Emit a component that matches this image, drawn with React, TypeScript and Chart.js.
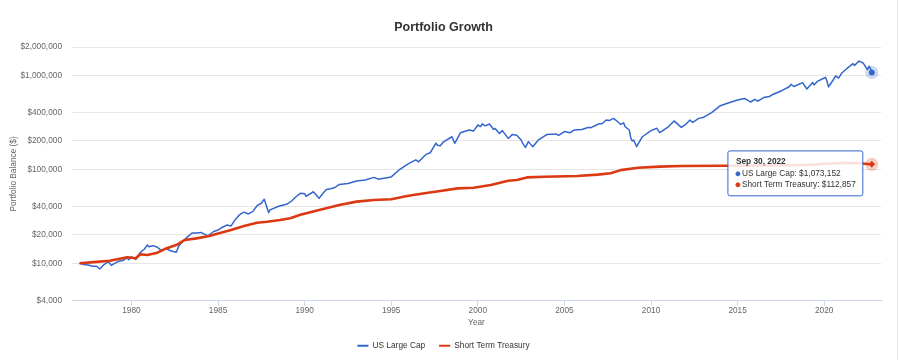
import React, { useEffect, useRef } from 'react';
import { Chart, Tooltip, registerables } from 'chart.js';

Chart.register(...registerables);

const FONT = '"Liberation Sans", Arial, Helvetica, sans-serif';

const chartTitle = 'Portfolio Growth';
const seriesNames = ['US Large Cap', 'Short Term Treasury'];
const seriesColors = ['#3366cc', '#dc3912'];
const haloColors = ['rgba(51,102,204,0.25)', 'rgba(220,57,18,0.25)'];

const yTickValues = [4000, 10000, 20000, 40000, 100000, 200000, 400000, 1000000, 2000000];
const xTickYears = [1980, 1985, 1990, 1995, 2000, 2005, 2010, 2015, 2020];

// month-end dates (YYYY-MM) and balances
const largeCapMonths = [
  '1976-12', '1977-03', '1977-06', '1977-09', '1977-12', '1978-02', '1978-05', '1978-08', '1978-10', '1978-12',
  '1979-03', '1979-06', '1979-09', '1979-10', '1979-12', '1980-03', '1980-06', '1980-09', '1980-11', '1980-12',
  '1981-03', '1981-06', '1981-09', '1981-12', '1982-03', '1982-07', '1982-09', '1982-12', '1983-03', '1983-06',
  '1983-09', '1983-12', '1984-05', '1984-09', '1984-12', '1985-03', '1985-06', '1985-09', '1985-12', '1986-03',
  '1986-06', '1986-09', '1986-12', '1987-03', '1987-06', '1987-08', '1987-11', '1987-12', '1988-06', '1988-12',
  '1989-03', '1989-06', '1989-09', '1989-12', '1990-01', '1990-06', '1990-10', '1990-12', '1991-03', '1991-06',
  '1991-09', '1991-12', '1992-06', '1992-12', '1993-06', '1993-12', '1994-03', '1994-06', '1994-12', '1995-06',
  '1995-12', '1996-05', '1996-07', '1996-12', '1997-03', '1997-07', '1997-08', '1997-10', '1997-12', '1998-06',
  '1998-08', '1998-12', '1999-06', '1999-09', '1999-12', '2000-02', '2000-03', '2000-05', '2000-08', '2000-11',
  '2000-12', '2001-03', '2001-05', '2001-09', '2001-12', '2002-03', '2002-06', '2002-07', '2002-09', '2002-11',
  '2003-02', '2003-06', '2003-12', '2004-06', '2004-08', '2004-12', '2005-04', '2005-07', '2005-12', '2006-05',
  '2006-06', '2006-12', '2007-02', '2007-05', '2007-07', '2007-10', '2007-12', '2008-03', '2008-05', '2008-06',
  '2008-09', '2008-10', '2008-11', '2008-12', '2009-02', '2009-06', '2009-12', '2010-04', '2010-06', '2010-12',
  '2011-04', '2011-09', '2011-12', '2012-03', '2012-05', '2012-09', '2012-12', '2013-06', '2013-12', '2014-06',
  '2014-12', '2015-05', '2015-08', '2015-09', '2015-12', '2016-02', '2016-06', '2016-10', '2016-12', '2017-06',
  '2017-12', '2018-01', '2018-03', '2018-09', '2018-12', '2019-04', '2019-05', '2019-07', '2019-12', '2020-01',
  '2020-02', '2020-03', '2020-06', '2020-08', '2020-10', '2020-12', '2021-04', '2021-08', '2021-09', '2021-12',
  '2022-03', '2022-06', '2022-07', '2022-08', '2022-09',
];
const largeCapValues = [
  10000, 9700, 9600, 9300, 9300, 8700, 9700, 10400, 9500, 9900,
  10500, 10700, 11500, 10900, 11700, 11000, 13000, 14200, 15700, 15000,
  15400, 14800, 13600, 14300, 13600, 13100, 15500, 17400, 19200, 21000,
  21000, 21300, 19600, 21800, 22600, 24200, 25500, 25000, 29300, 33000,
  35000, 33500, 35500, 41000, 43500, 48000, 34600, 37000, 40500, 42800,
  46000, 51000, 55500, 55000, 51500, 57700, 49100, 54000, 61000, 62000,
  64000, 69100, 70500, 75000, 77000, 82000, 78500, 80000, 83000, 100000,
  115000, 126000, 120000, 144000, 150000, 190000, 180000, 178000, 195000, 222000,
  189000, 245000, 262000, 255000, 296000, 285000, 305000, 290000, 303000, 265000,
  272000, 240000, 258000, 213000, 235000, 230000, 205000, 190000, 171000, 197000,
  174000, 205000, 235000, 238000, 230000, 252000, 245000, 262000, 265000, 280000,
  276000, 305000, 305000, 335000, 330000, 348000, 330000, 300000, 312000, 285000,
  260000, 215000, 200000, 205000, 174000, 222000, 258000, 273000, 245000, 283000,
  327000, 279000, 300000, 334000, 315000, 348000, 355000, 400000, 475000, 510000,
  547000, 565000, 530000, 520000, 555000, 530000, 580000, 595000, 620000, 680000,
  760000, 800000, 760000, 837000, 715000, 840000, 790000, 855000, 935000, 950000,
  860000, 755000, 880000, 985000, 935000, 1050000, 1190000, 1330000, 1270000, 1415000,
  1350000, 1150000, 1250000, 1190000, 1073152,
];

const treasuryMonths = [
  '1976-12', '1977-12', '1978-09', '1979-09', '1980-03', '1980-06', '1980-11', '1981-06', '1981-12', '1982-07',
  '1983-01', '1983-09', '1984-06', '1984-12', '1985-09', '1986-06', '1987-03', '1987-10', '1988-07', '1989-02',
  '1989-09', '1990-08', '1991-12', '1992-12', '1993-12', '1994-12', '1995-11', '1996-11', '1997-10', '1998-10',
  '1999-09', '2000-09', '2001-09', '2002-03', '2002-10', '2003-10', '2005-09', '2006-11', '2007-08', '2008-03',
  '2009-03', '2010-06', '2011-09', '2014-03', '2016-01', '2018-01', '2019-01', '2020-01', '2021-01', '2022-01',
  '2022-06', '2022-09',
];
const treasuryValues = [
  10000, 10350, 10650, 11600, 11300, 12500, 12250, 12960, 14400, 15650,
  17700, 18400, 19500, 20800, 22600, 24900, 27000, 27700, 28900, 30200,
  32800, 36300, 41700, 45300, 47200, 48000, 52000, 55500, 58700, 62700,
  63700, 68000, 75600, 76900, 82000, 83400, 84700, 87700, 90600, 98000,
  104000, 106700, 108400, 109200, 109500, 110500, 111500, 114500, 117000, 116000,
  114000, 112857,
];

const monthNames = ['Jan', 'Feb', 'Mar', 'Apr', 'May', 'Jun', 'Jul', 'Aug', 'Sep', 'Oct', 'Nov', 'Dec'];

const toYear = (m: string) => {
  const [y, mo] = m.split('-').map(Number);
  return y + mo / 12;
};

const monthEndLabel = (x: number) => {
  let year = Math.floor(x + 1e-6);
  let m = Math.round((x - year) * 12);
  if (m === 0) {
    m = 12;
    year -= 1;
  }
  const day = new Date(year, m, 0).getDate();
  return `${monthNames[m - 1]} ${day}, ${year}`;
};

const fmtMoney = (v: number) => '$' + Math.round(v).toLocaleString('en-US');

(Tooltip.positioners as any).lastPoint = function (items: any[]) {
  if (!items.length) return false;
  const it = items.find((i) => i.datasetIndex === 1) || items[items.length - 1];
  return { x: it.element.x, y: it.element.y + 9 };
};

const haloPlugin = {
  id: 'halo',
  afterDatasetsDraw(chart: any) {
    const ctx = chart.ctx;
    chart.getActiveElements().forEach((a: any) => {
      const el = a.element;
      ctx.save();
      ctx.beginPath();
      ctx.arc(el.x, el.y, 6.5, 0, Math.PI * 2);
      ctx.arc(el.x, el.y, 3.2, 0, Math.PI * 2, true);
      ctx.fillStyle = haloColors[a.datasetIndex];
      ctx.fill('evenodd');
      ctx.restore();
    });
  },
};

export default function App() {
  const ref = useRef<HTMLCanvasElement | null>(null);

  useEffect(() => {
    if (!ref.current) return;
    const largeCapData = largeCapMonths.map((m, i) => ({ x: toYear(m), y: largeCapValues[i] }));
    const treasuryData = treasuryMonths.map((m, i) => ({ x: toYear(m), y: treasuryValues[i] }));

    const chart = new Chart(ref.current, {
      type: 'line',
      data: {
        datasets: [
          {
            label: seriesNames[0],
            data: largeCapData,
            borderColor: seriesColors[0],
            backgroundColor: seriesColors[0],
            borderWidth: 1.5,
            pointRadius: 0,
            pointHoverRadius: 3,
            pointHoverBorderWidth: 0,
            pointHoverBackgroundColor: seriesColors[0],
            pointStyle: 'circle',
            tension: 0,
            borderJoinStyle: 'round',
            order: 1,
          },
          {
            label: seriesNames[1],
            data: treasuryData,
            borderColor: seriesColors[1],
            backgroundColor: seriesColors[1],
            borderWidth: 2.6,
            pointRadius: 0,
            pointHoverRadius: 3.5,
            pointHoverBorderWidth: 0,
            pointHoverBackgroundColor: seriesColors[1],
            pointStyle: 'rectRot',
            tension: 0,
            borderJoinStyle: 'round',
            order: 0,
          },
        ],
      } as any,
      options: {
        responsive: false,
        animation: false,
        events: [],
        parsing: false,
        normalized: true,
        layout: { padding: { top: 0, left: 0, right: 13, bottom: 0 } },
        scales: {
          x: {
            type: 'linear',
            min: 1976.565,
            max: 2023.28,
            afterBuildTicks: (s: any) => {
              s.ticks = xTickYears.map((v) => ({ value: v }));
            },
            afterFit: (s: any) => {
              s.height = 27;
            },
            ticks: {
              color: '#666',
              font: { family: FONT, size: 8.3 },
              padding: 0,
              maxRotation: 0,
              autoSkip: false,
              callback: (v: any) => String(v),
            },
            grid: {
              display: true,
              drawOnChartArea: false,
              drawTicks: true,
              tickLength: 5,
              color: '#ccd6eb',
            },
            border: { display: true, color: '#ccd6eb', width: 1 },
            title: {
              display: true,
              text: 'Year',
              color: '#666',
              font: { family: FONT, size: 8.3 },
              padding: { top: 0, bottom: 0 },
            },
          },
          y: {
            type: 'logarithmic',
            position: 'left',
            min: 4000,
            max: 2000000,
            afterBuildTicks: (s: any) => {
              s.ticks = yTickValues.map((v) => ({ value: v }));
            },
            afterFit: (s: any) => {
              s.width = 72;
            },
            ticks: {
              color: '#666',
              font: { family: FONT, size: 8.3 },
              padding: 10,
              autoSkip: false,
              callback: (v: any) => fmtMoney(Number(v)),
            },
            grid: { color: '#e6e6e6', drawTicks: false, lineWidth: 1 },
            border: { display: false },
            title: {
              display: true,
              text: 'Portfolio Balance ($)',
              color: '#666',
              font: { family: FONT, size: 8.3 },
              padding: { top: 8.4, bottom: 0 },
            },
          },
          yRight: {
            type: 'linear',
            position: 'right',
            display: true,
            grid: { display: false, drawTicks: false },
            ticks: { display: false },
            border: { display: false },
            afterFit: (s: any) => {
              s.width = 6;
            },
          },
        },
        plugins: {
          title: {
            display: true,
            text: chartTitle,
            color: '#333',
            font: { family: FONT, size: 12.5, weight: 'bold' },
            padding: { top: 20.2, bottom: 11.8 },
          },
          legend: {
            display: true,
            position: 'bottom',
            labels: {
              color: '#333',
              font: { family: FONT, size: 8.3 },
              boxWidth: 11,
              boxHeight: 2,
              padding: 14,
              sort: (a: any, b: any) => a.datasetIndex - b.datasetIndex,
              generateLabels: (c: any) =>
                (Chart.defaults.plugins.legend.labels as any)
                  .generateLabels(c)
                  .map((l: any) => ({
                    ...l,
                    fillStyle: seriesColors[l.datasetIndex],
                    strokeStyle: seriesColors[l.datasetIndex],
                    lineWidth: 0,
                  })),
            },
          },
          tooltip: {
            enabled: true,
            position: 'lastPoint' as any,
            xAlign: 'right',
            yAlign: 'center',
            caretSize: 0,
            caretPadding: 9,
            backgroundColor: 'rgba(255,255,255,0.85)',
            borderColor: '#3366cc',
            borderWidth: 1,
            cornerRadius: 2,
            titleColor: '#333',
            titleFont: { family: FONT, size: 8.3, weight: 'bold' },
            titleMarginBottom: 2,
            bodyColor: '#333',
            bodyFont: { family: FONT, size: 8.3 },
            bodySpacing: 1,
            padding: { top: 6, bottom: 6, left: 8, right: 7 },
            displayColors: true,
            usePointStyle: true,
            boxWidth: 4,
            boxHeight: 4,
            boxPadding: 0,
            callbacks: {
              title: (items: any[]) => (items.length ? monthEndLabel(items[0].parsed.x) : ''),
              label: (item: any) => `${item.dataset.label}: ${fmtMoney(item.parsed.y)}`,
              labelColor: (item: any) => ({
                borderColor: seriesColors[item.datasetIndex],
                backgroundColor: seriesColors[item.datasetIndex],
                borderWidth: 0,
              }),
              labelPointStyle: () => ({ pointStyle: 'circle', rotation: 0 }),
            },
          },
        },
      } as any,
      plugins: [haloPlugin],
    });

    const active = [
      { datasetIndex: 0, index: largeCapValues.length - 1 },
      { datasetIndex: 1, index: treasuryValues.length - 1 },
    ];
    chart.setActiveElements(active);
    chart.tooltip?.setActiveElements(active, { x: 0, y: 0 });
    chart.update();

    return () => chart.destroy();
  }, []);

  return (
    <div style={{ position: 'absolute', left: 0, top: 0, width: 900, height: 360, background: '#fff' }}>
      <canvas ref={ref} width={900} height={360} style={{ display: 'block' }} />
      <div style={{ position: 'absolute', left: 897, top: 0, width: 1, height: 360, background: '#e6e6e6' }} />
    </div>
  );
}
